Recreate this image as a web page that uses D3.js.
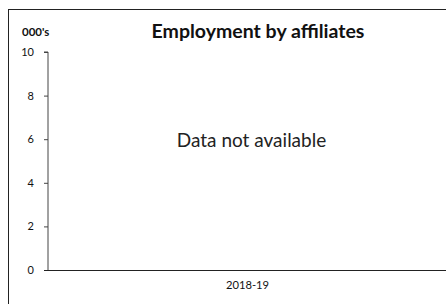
<!DOCTYPE html>
<html><head><meta charset="utf-8">
<script src="https://cdn.jsdelivr.net/npm/d3@7"></script>
<style>body{margin:0;background:#fff}svg{display:block}</style>
</head><body>
<svg id="c" width="446" height="304"></svg>
<script>
const categories = ["2018-19"];
const values = [null];
const yTicks = [0, 2, 4, 6, 8, 10];
const title = "Employment by affiliates";
const unitLabel = "000's";
const noDataText = "Data not available";

const svg = d3.select("#c");
const font = "Lato, 'Open Sans', sans-serif";
const mLeft = 48, mRight = 447, mTop = 52, mBottom = 270;

svg.append("rect").attr("x", 8.5).attr("y", 9.5).attr("width", 460).attr("height", 320)
  .attr("fill", "none").attr("stroke", "#222").attr("stroke-width", 1);

const x = d3.scaleBand().domain(categories).range([mLeft, mRight]);
const y = d3.scaleLinear().domain([0, 10]).range([mBottom, mTop]);

const ya = svg.append("g").attr("transform", `translate(${mLeft},0)`)
  .call(d3.axisLeft(y).tickValues(yTicks).tickSize(4).tickPadding(10).tickFormat(d3.format("d")));
ya.select(".domain").attr("d", `M-4,${y(10)}H0V${y(0)}`).attr("stroke", "#444");
ya.selectAll(".tick line").attr("stroke", "#444");
ya.selectAll("text").attr("font-family", font).attr("font-size", 11).attr("fill", "#111");

const xa = svg.append("g").attr("transform", `translate(0,${mBottom})`)
  .call(d3.axisBottom(x).tickSize(0).tickPadding(11));
xa.select(".domain").attr("stroke", "#222").attr("d", `M${mLeft-4},0.5H${mRight}`);
xa.selectAll("text").attr("font-family", font).attr("font-size", 11.2).attr("fill", "#111");

svg.append("text").attr("x", 258).attr("y", 38).attr("text-anchor", "middle")
  .attr("font-family", font).attr("font-weight", "bold").attr("font-size", 19.5).attr("fill", "#111").text(title);
svg.append("text").attr("x", 22).attr("y", 36)
  .attr("font-family", font).attr("font-weight", "bold").attr("font-size", 11.5).attr("fill", "#111").text(unitLabel);
svg.append("text").attr("x", 251.5).attr("y", 147).attr("text-anchor", "middle")
  .attr("font-family", font).attr("font-size", 19).attr("fill", "#222").text(noDataText);
</script>
</body></html>
